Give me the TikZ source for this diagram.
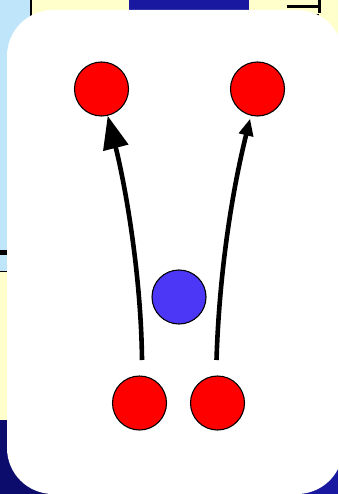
\documentclass[tikz,border=0pt]{standalone}
\usetikzlibrary{arrows.meta}
\definecolor{navyL}{RGB}{12,12,108}
\definecolor{navyR}{RGB}{24,24,160}
\definecolor{paleblue}{RGB}{190,229,250}
\definecolor{paleyellow}{RGB}{255,255,204}
\definecolor{ballred}{RGB}{255,0,0}
\definecolor{ballblue}{RGB}{75,55,245}
\tikzset{
  ball/.style={circle, draw=black, line width=1.1pt, inner sep=0pt, minimum size=54pt},
  redball/.style={ball, fill=ballred},
  blueball/.style={ball, fill=ballblue},
  track/.style={line width=4.6pt, line cap=butt},
}
\begin{document}
\begin{tikzpicture}[x=1pt,y=-1pt]
\useasboundingbox (0,0) rectangle (338,494);

% slide background: dark navy on the left, brighter navy on the right
\fill[navyL] (0,0) rectangle (169,494);
\fill[navyR] (169,0) rectangle (338,494);
\fill[paleblue] (0,0) rectangle (30,272);
\fill[paleyellow] (0,272) rectangle (7,420);
\fill[paleyellow] (31,0) rectangle (129,60);
\fill[navyR] (129,0) rectangle (249,30);
\fill[paleyellow] (249,0) rectangle (338,60);
\fill[black] (0,250) rectangle (8,255);
\draw[line width=1.6pt] (0,271.5) -- (8,271.5);
\draw[line width=2pt] (30.5,0) -- (30.5,40);
\draw[line width=3pt] (287,6.5) -- (321,6.5);
\draw[line width=3pt] (319,0) -- (319,13);
\draw[line width=2.5pt] (317.5,14) -- (317.5,21);

% white panel, its right side running off the page edge
\fill[white] (7,56) arc[start angle=180, end angle=270, radius=46]
  -- (297,10) arc[start angle=270, end angle=333, radius=46]
  -- (338,468.9) arc[start angle=27, end angle=90, radius=46]
  -- (53,494) arc[start angle=90, end angle=180, radius=46]
  -- cycle;

% particles
\node[redball]  (tl) at (101.5,89) {};
\node[redball]  (tr) at (257.5,89) {};
\node[blueball] (mid) at (179,297) {};
\node[redball]  (bl) at (139.5,403) {};
\node[redball]  (br) at (217.5,403) {};

% paths
\coordinate (sl) at (142,360);
\coordinate (sr) at (216.5,360);
\draw[track, -{Triangle[length=33pt,width=25pt]}]
  (sl) .. controls (141,270) and (124,180) .. (tl.-77);
\draw[track, -{Triangle[length=17pt,width=14pt]}, shorten >=3pt]
  (sr) .. controls (219,280) and (230,200) .. (tr.-104);
\end{tikzpicture}
\end{document}
